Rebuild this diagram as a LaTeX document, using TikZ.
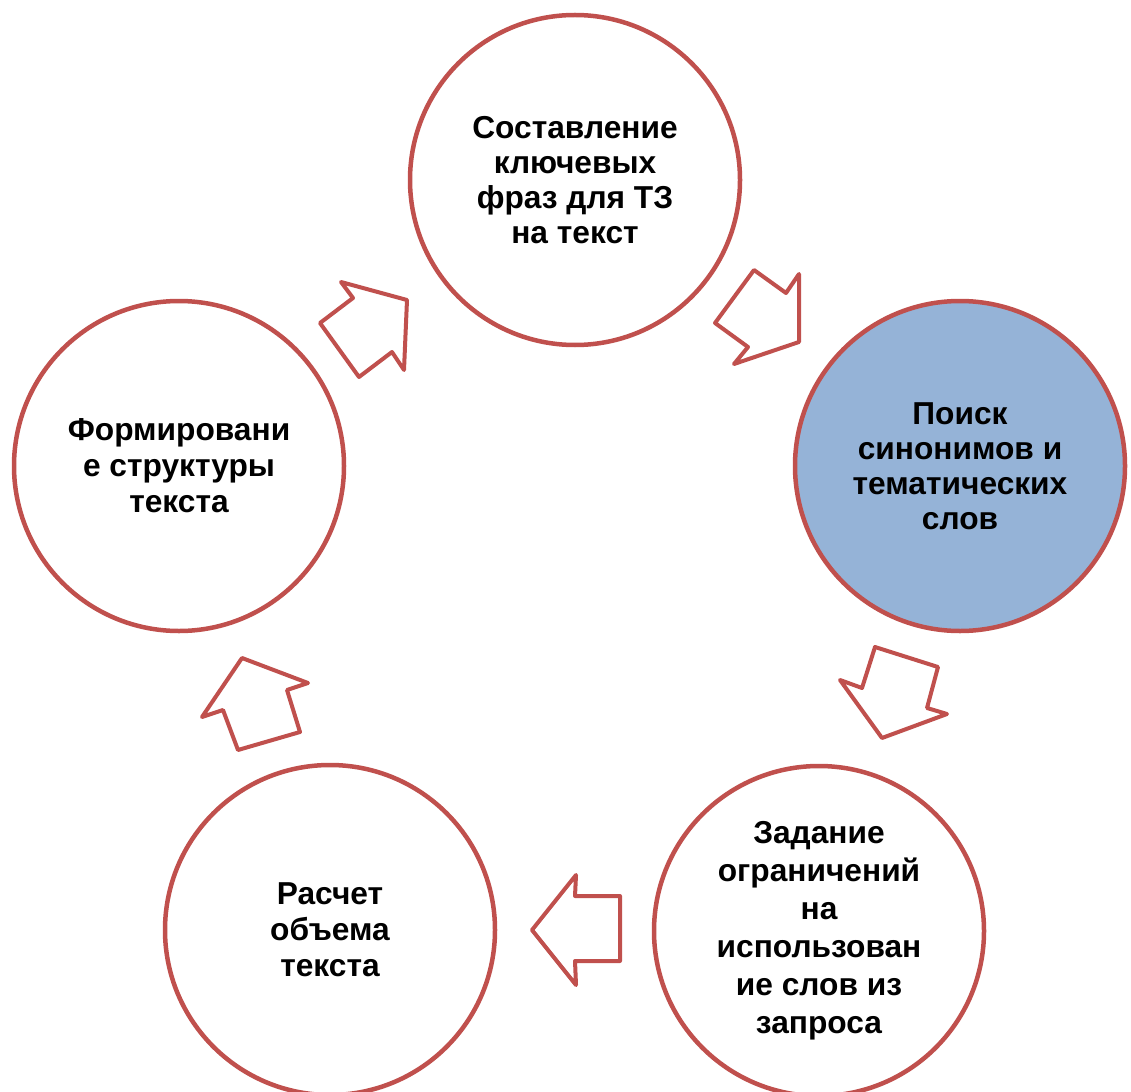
\documentclass[tikz,border=0pt]{standalone}
\usepackage{fontspec}
\setmainfont{Liberation Sans}
\definecolor{cred}{HTML}{C0504D}
\definecolor{cblue}{HTML}{95B3D7}
\begin{document}
\begin{tikzpicture}[x=1pt,y=-1pt,
  stage/.style={circle, draw=cred, line width=4.5pt, fill=white, minimum size=330pt, inner sep=0pt, align=center, font=\bfseries\fontsize{31.7}{35}\selectfont},
  blockarrow/.style={draw=cred, line width=4pt, fill=white, line join=round}]
\useasboundingbox (0,0) rectangle (1131,1091);
\node[stage] (top) at (575,180) {Составление\\ключевых\\фраз для ТЗ\\на текст};
\node[stage, fill=cblue] (right) at (960,466) {Поиск\\синонимов и\\тематических\\слов};
\node[stage, font=\bfseries\fontsize{31.7}{38}\selectfont] (brt) at (819,931) {Задание\\ограничений\\на\\использован\\ие слов из\\запроса};
\node[stage, font=\bfseries\fontsize{31.7}{36}\selectfont] (blt) at (330,930) {Расчет\\объема\\текста};
\node[stage, font=\bfseries\fontsize{31.7}{36}\selectfont] (left) at (179,466) {Формировани\\е структуры\\текста};
\draw[blockarrow] (341,282) -- (353,298) -- (320,323) -- (359,377) -- (392,352) -- (404,370) -- (407,300) -- cycle;
\draw[blockarrow] (754,270) -- (786,293) -- (799,274) -- (799,342) -- (734,364) -- (748,347) -- (715,323) -- cycle;
\draw[blockarrow] (875,647) -- (938,667) -- (927,708) -- (947,714) -- (882,738) -- (840,680) -- (862,688) -- cycle;
\draw[blockarrow] (620,896) -- (575,896) -- (576,875) -- (532,930) -- (576,985) -- (575,961) -- (620,961) -- cycle;
\draw[blockarrow] (242,658) -- (308,683) -- (287,690) -- (300,732) -- (238,750) -- (223,710) -- (202,717) -- cycle;
\end{tikzpicture}
\end{document}
